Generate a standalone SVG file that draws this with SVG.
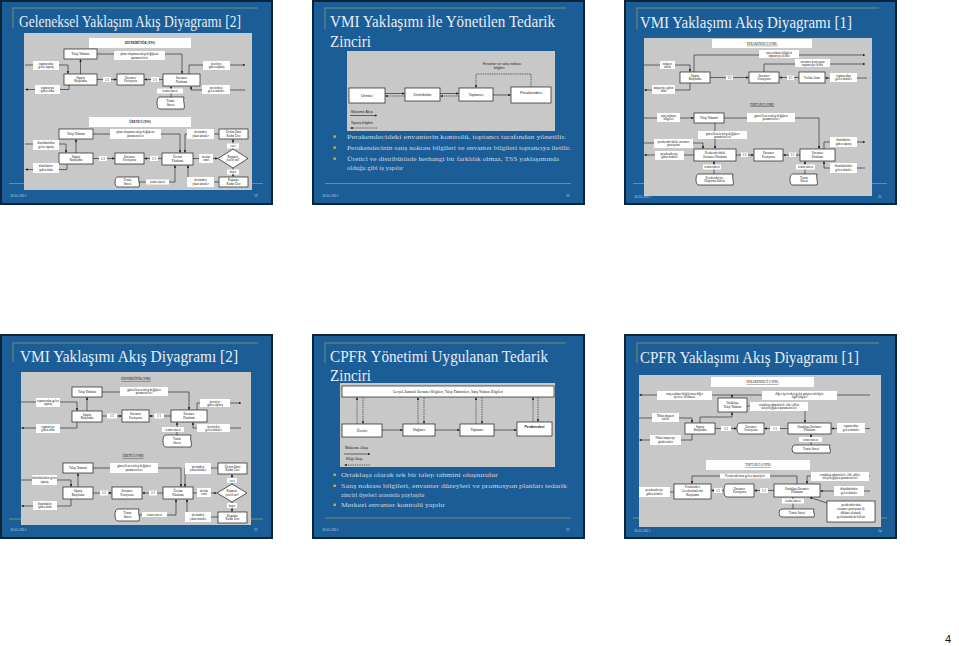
<svg xmlns="http://www.w3.org/2000/svg" width="959" height="646" viewBox="0 0 959 646">
<defs>
<marker id="ah" viewBox="0 0 6 6" refX="5.5" refY="3" markerWidth="2.4" markerHeight="2.4" markerUnits="userSpaceOnUse" orient="auto"><path d="M0,0 L6,3 L0,6z" fill="#111"/></marker>
<style>
.fr{fill:#1b5e97;stroke:#0c243b;stroke-width:2}
.gl{stroke:#8f9b6a;stroke-width:0.8;fill:none}
.ttl{font-family:"Liberation Serif",serif;font-size:17px;fill:#e8edf3}
.pn{fill:#c8c8c8}
.b{fill:#fff;stroke:#1a1a1a;stroke-width:0.7}
.w{fill:#fff}
.s{font-family:"Liberation Serif",serif;font-size:3.1px;fill:#111;text-anchor:middle}
.h{font-weight:bold}
.u{text-decoration:underline}
.c{stroke:#1a1a1a;stroke-width:0.6;fill:none;marker-end:url(#ah)}
.d{stroke-dasharray:1.4 0.9}
.ft{font-family:"Liberation Serif",serif;font-size:3.6px;fill:#c9d5e2}
.bu{font-family:"Liberation Serif",serif;font-size:6.2px;fill:#cdd6e1}
.bq{fill:#c6b44a}
.n{font-family:"Liberation Sans",sans-serif;font-size:4px;fill:#222;text-anchor:middle}
.nl{font-family:"Liberation Sans",sans-serif;font-size:3.4px;fill:#222}
</style>
</defs>
<rect width="959" height="646" fill="#fff"/>

<!-- Slide 19 -->
<g id="slide19" transform="translate(1,1)">
<rect class="fr" x="0" y="0" width="271" height="203"/>
<path class="gl" d="M12,27 V7 H257"/>
<path class="gl" d="M8,182.5 H262"/>
<text class="ttl" x="18" y="26" textLength="222" lengthAdjust="spacingAndGlyphs">Geleneksel Yaklaşım Akış Diyagramı [2]</text>
<text class="ft" x="9" y="196">16.01.2015</text>
<text class="ft" x="253" y="196">19</text>
<rect class="pn" x="23" y="32" width="228" height="157"/>
<g id="s19-edges">
<path class="c" d="M24,64 H67 V72.5"/>
<path class="c" d="M68,84 V88.5 H24.5"/>
<path class="c" d="M79.5,73 V58.5"/>
<path class="c" d="M96,53 H181 V72.5"/>
<path class="c" d="M96,78.5 H115.5"/>
<path class="c" d="M162,78.5 H143.5"/>
<path class="c" d="M188,73 V64 H244"/>
<path class="c" d="M244,89 H190 V85.5"/>
<path class="c" d="M170,96 V85.5"/>
<path class="c" d="M24,143 H65 V151.5"/>
<path class="c" d="M66,163 V168.5 H24.5"/>
<path class="c" d="M75,152 V138.5"/>
<path class="c" d="M92,133 H179 V151.5"/>
<path class="c" d="M92,157.5 H113.5"/>
<path class="c" d="M161,157.5 H143.5"/>
<path class="c" d="M192,157.5 H216.5"/>
<path class="c" d="M232,148 V138.5"/>
<path class="c" d="M232,167 V175.5"/>
<path class="c" d="M218,133 H184 V151.5"/>
<path class="c" d="M218,181 H187 V164.5"/>
<path class="c" d="M138,181 H174 V164.5"/>
</g>
<g id="s19-dist-hdr"><rect class="w" x="88" y="37" width="102" height="10"/><text class="s h" x="139" y="43.2">DİSTRİBÜTÖR (TSS)</text></g>
<g id="s19-talep1"><rect class="b" x="63" y="48" width="33" height="10"/><text class="s" x="79.5" y="54.1">Talep Tahmini</text></g>
<g id="s19-l1"><rect class="w" x="113" y="50" width="51" height="9"/><text class="s" x="138.5" y="54">planı oluşturan talep değişkeni</text><text class="s" x="138.5" y="57.6">parametreleri</text></g>
<g id="s19-l2"><rect class="w" x="32" y="60" width="26" height="9"/><text class="s" x="45" y="63.8">toptancıdan</text><text class="s" x="45" y="67.4">gelen sipariş</text></g>
<g id="s19-siparis1"><rect class="b" x="63" y="73" width="33" height="11"/><text class="s" x="79.5" y="77.6">Sipariş</text><text class="s" x="79.5" y="81.4">Karşılama</text></g>
<g id="s19-r12a"><rect class="w" x="102" y="76" width="8" height="5"/><text class="s" x="106" y="79.5">1/2</text></g>
<g id="s19-envpoz1"><rect class="b" x="116" y="73" width="27" height="11"/><text class="s" x="129.5" y="77.6">Envanter</text><text class="s" x="129.5" y="81.4">Pozisyonu</text></g>
<g id="s19-r11a"><rect class="w" x="150" y="76" width="8" height="5"/><text class="s" x="154" y="79.5">1/1</text></g>
<g id="s19-envplan"><rect class="b" x="162" y="73" width="37" height="12"/><text class="s" x="180.5" y="78">Envanter</text><text class="s" x="180.5" y="81.8">Planlama</text></g>
<g id="s19-l3"><rect class="w" x="202" y="60" width="27" height="9"/><text class="s" x="215.5" y="63.8">üreticiye</text><text class="s" x="215.5" y="67.4">giden sipariş</text></g>
<g id="s19-l4"><rect class="w" x="34" y="84" width="25" height="9"/><text class="s" x="46.5" y="87.8">toptancıya</text><text class="s" x="46.5" y="91.4">giden ürün</text></g>
<g id="s19-l5"><rect class="w" x="201" y="84" width="28" height="9"/><text class="s" x="215" y="87.8">üreticiden</text><text class="s" x="215" y="91.4">gelen ürünler</text></g>
<g id="s19-l6"><rect class="w" x="156" y="87.5" width="26" height="5"/><text class="s" x="169" y="91">temin süresi</text></g>
<g id="s19-temin1"><path class="b" d="M159,96 H183 c-1.5,3 1.5,9 0,12 H159 q-3,0 -3,-6 q0,-6 3,-6Z"/><text class="s" x="169.5" y="101">Temin</text><text class="s" x="169.5" y="104.8">Süresi</text></g>
<g id="s19-ur-hdr"><rect class="w" x="88" y="116" width="102" height="10"/><text class="s h" x="139" y="122.2">ÜRETİCİ (TSS)</text></g>
<g id="s19-talep2"><rect class="b" x="58" y="128" width="34" height="10"/><text class="s" x="75" y="134.1">Talep Tahmini</text></g>
<g id="s19-l7"><rect class="w" x="109" y="128" width="51" height="10"/><text class="s" x="134.5" y="132.3">planı oluşturan talep değişkeni</text><text class="s" x="134.5" y="136">parametreleri</text></g>
<g id="s19-l8"><rect class="w" x="32" y="139" width="26" height="10"/><text class="s" x="45" y="143.2">distribütörden</text><text class="s" x="45" y="146.9">gelen sipariş</text></g>
<g id="s19-siparis2"><rect class="b" x="58" y="152" width="34" height="11"/><text class="s" x="75" y="156.6">Sipariş</text><text class="s" x="75" y="160.4">Karşılama</text></g>
<g id="s19-r12b"><rect class="w" x="98" y="155" width="8" height="5"/><text class="s" x="102" y="158.5">1/2</text></g>
<g id="s19-envpoz2"><rect class="b" x="114" y="152" width="29" height="11"/><text class="s" x="128.5" y="156.6">Envanter</text><text class="s" x="128.5" y="160.4">Pozisyonu</text></g>
<g id="s19-r11b"><rect class="w" x="149" y="155" width="8" height="5"/><text class="s" x="153" y="158.5">1/1</text></g>
<g id="s19-uretplan"><rect class="b" x="161" y="152" width="31" height="12"/><text class="s" x="176.5" y="157">Üretim</text><text class="s" x="176.5" y="160.8">Planlama</text></g>
<g id="s19-l9"><rect class="w" x="198" y="153" width="14" height="9"/><text class="s" x="205" y="156.8">üretim</text><text class="s" x="205" y="160.4">emri</text></g>
<g id="s19-kapasite"><path class="b" d="M217,157.5 L232,148 L247,157.5 L232,167Z"/><text class="s" x="232" y="156.6">Kapasite</text><text class="s" x="232" y="160.2">yeterli mi?</text></g>
<g id="s19-evet"><rect class="w" x="226" y="142.5" width="12" height="5"/><text class="s" x="232" y="146">evet</text></g>
<g id="s19-hayir"><rect class="w" x="226" y="168.5" width="12" height="5"/><text class="s" x="232" y="172">hayır</text></g>
<g id="s19-l10"><rect class="w" x="186" y="128" width="27" height="10"/><text class="s" x="199.5" y="132.3">üretimden</text><text class="s" x="199.5" y="136">çıkan ürünler</text></g>
<g id="s19-emri"><rect class="b" x="218" y="128" width="29" height="10"/><text class="s" x="232.5" y="132.3">Üretim Emri</text><text class="s" x="232.5" y="136">Kadar Üret</text></g>
<g id="s19-l11"><rect class="w" x="186" y="176" width="27" height="10"/><text class="s" x="199.5" y="180.3">üretimden</text><text class="s" x="199.5" y="184">çıkan ürünler</text></g>
<g id="s19-kapkadar"><rect class="b" x="218" y="176" width="29" height="10"/><text class="s" x="232.5" y="180.3">Kapasite</text><text class="s" x="232.5" y="184">Kadar Üret</text></g>
<g id="s19-temin2"><path class="b" d="M117,176 H138 c-1.5,2.5 1.5,7.5 0,10 H117 q-3,0 -3,-5 q0,-5 3,-5Z"/><text class="s" x="126.5" y="180.3">Temin</text><text class="s" x="126.5" y="184">Süresi</text></g>
<g id="s19-l12"><rect class="w" x="145" y="178.5" width="23" height="5"/><text class="s" x="156.5" y="182">temin süresi</text></g>
<g id="s19-l13"><rect class="w" x="32" y="162" width="26" height="10"/><text class="s" x="45" y="166.2">distribütöre</text><text class="s" x="45" y="169.9">giden ürün</text></g>
</g>

<!-- Slide 20 -->
<g id="slide20" transform="translate(313,1)">
<rect class="fr" x="0" y="0" width="271" height="203"/>
<path class="gl" d="M12,28 V7 H253"/>
<path class="gl" d="M12,182.5 H258"/>
<text class="ttl" x="17" y="26" textLength="225" lengthAdjust="spacingAndGlyphs">VMI Yaklaşımı ile Yönetilen Tedarik</text>
<text class="ttl" x="17" y="46" textLength="41" lengthAdjust="spacingAndGlyphs">Zinciri</text>
<text class="ft" x="9" y="196">16.01.2015</text>
<text class="ft" x="253" y="196">20</text>
<rect class="pn" x="34" y="50" width="208" height="80"/>
<g id="s20-edges">
<path class="c" d="M72,92.5 H91.5"/>
<path class="c d" d="M92,95 H72.5"/>
<path class="c" d="M127,92.5 H145.5"/>
<path class="c d" d="M146,95 H127.5"/>
<path class="c" d="M180,94 H197.5"/>
<path class="c d" d="M218,86 V73 H163 V86.5"/>
<path class="c" d="M37,114.5 H64"/>
<path class="c d" d="M64,127 H37.5"/>
</g>
<text class="nl" x="170" y="63.5">Envanter  ve  satış noktası</text>
<text class="nl" x="181" y="67.5">bilgileri</text>
<g id="s20-uretici"><rect class="b" x="36" y="87" width="36" height="15"/><text class="n" x="54" y="96">Üretici</text></g>
<g id="s20-dist"><rect class="b" x="92" y="87" width="35" height="13"/><text class="n" x="109.5" y="95">Distribütör</text></g>
<g id="s20-topt"><rect class="b" x="146" y="87" width="34" height="13"/><text class="n" x="163" y="95">Toptancı</text></g>
<g id="s20-perak"><rect class="b" x="198" y="86" width="40" height="16"/><text class="n" x="218" y="93">Perakendeci</text></g>
<text class="nl" x="38" y="111.5">Malzeme  Akışı</text>
<text class="nl" x="38" y="123">Sipariş bilgileri</text>
<rect class="bq" x="20.5" y="134.4" width="2.4" height="2.4"/>
<text class="bu" x="34" y="138" textLength="219" lengthAdjust="spacingAndGlyphs">Perakendecideki envanterin kontrolü, toptancı tarafından yönetilir.</text>
<rect class="bq" x="20.5" y="145.4" width="2.4" height="2.4"/>
<text class="bu" x="34" y="149" textLength="224" lengthAdjust="spacingAndGlyphs">Perakendecinin satış noktası bilgileri ve envanter bilgileri toptancıya iletilir.</text>
<rect class="bq" x="20.5" y="156.4" width="2.4" height="2.4"/>
<text class="bu" x="34" y="160" textLength="212" lengthAdjust="spacingAndGlyphs">Üretici ve distribütörde herhangi bir farklılık olmaz, TSS yaklaşımında</text>
<text class="bu" x="34" y="168.5" textLength="56" lengthAdjust="spacingAndGlyphs">olduğu gibi iş yapılır</text>
</g>

<!-- Slide 21 -->
<g id="slide21" transform="translate(625,1)">
<rect class="fr" x="0" y="0" width="271" height="203"/>
<path class="gl" d="M12,28 V7 H254"/>
<path class="gl" d="M8,182.5 H262"/>
<text class="ttl" x="15" y="27" textLength="212" lengthAdjust="spacingAndGlyphs">VMI Yaklaşımı Akış Diyagramı [1]</text>
<rect class="pn" x="19" y="37" width="228" height="158"/>
<text class="ft" x="9" y="197">16.01.2015</text>
<text class="ft" x="253" y="197">21</text>
<g id="s21-edges">
<path class="c" d="M19,64 H65 V70.5"/>
<path class="c" d="M69,71 V54 H240"/>
<path class="c" d="M139,71 V63 H240"/>
<path class="c" d="M85,76.5 H123.5"/>
<path class="c" d="M174,76.5 H154.5"/>
<path class="c" d="M242,77 H200.5"/>
<path class="c" d="M65,82 V89 H19.5"/>
<path class="c" d="M19,117 H68.5"/>
<path class="c" d="M99,117 H194 V147.5"/>
<path class="c" d="M90,122 V147.5"/>
<path class="c" d="M19,142 H78 V147.5"/>
<path class="c" d="M69,154 H19.5"/>
<path class="c" d="M111,154 H128.5"/>
<path class="c" d="M175,154 H158.5"/>
<path class="c" d="M199,148 V141 H240"/>
<path class="c" d="M240,167 H199 V160.5"/>
<path class="c" d="M89,173 V160.5"/>
<path class="c" d="M180,173 V160.5"/>
</g>
<g id="s21-perak-hdr"><rect class="w" x="87" y="38" width="100" height="9"/><text class="s u" x="137" y="43.8">PERAKENDECİ (VMI)</text></g>
<g id="s21-l1"><rect class="w" x="134" y="49" width="40" height="8"/><text class="s" x="154" y="52.6">satış noktası bilgileri</text><text class="s" x="154" y="56">toptancıya iletilir</text></g>
<g id="s21-l2"><rect class="w" x="170" y="58" width="35" height="8"/><text class="s" x="187.5" y="61.6">envanter pozisyonu</text><text class="s" x="187.5" y="65">toptancıya iletilir</text></g>
<g id="s21-l3"><rect class="w" x="35" y="60" width="15" height="8"/><text class="s" x="42.5" y="63.6">müşteri</text><text class="s" x="42.5" y="67">talebi</text></g>
<g id="s21-siparis"><rect class="b" x="55" y="71" width="30" height="11"/><text class="s" x="70" y="75.6">Sipariş</text><text class="s" x="70" y="79.4">Karşılama</text></g>
<g id="s21-r12a"><rect class="w" x="101" y="74.5" width="7" height="4.5"/><text class="s" x="104.5" y="77.8">1/2</text></g>
<g id="s21-envpoz1"><rect class="b" x="124" y="71" width="30" height="11"/><text class="s" x="139" y="75.6">Envanter</text><text class="s" x="139" y="79.4">Pozisyonu</text></g>
<g id="s21-r11a"><rect class="w" x="162" y="74.5" width="7" height="4.5"/><text class="s" x="165.5" y="77.8">1/1</text></g>
<g id="s21-teslim"><rect class="b" x="174" y="71" width="26" height="11"/><text class="s" x="187" y="77.6">Teslim Alma</text></g>
<g id="s21-l4"><rect class="w" x="205" y="72" width="27" height="9"/><text class="s" x="218.5" y="75.8">toptancıdan</text><text class="s" x="218.5" y="79.4">gelen ürünler</text></g>
<g id="s21-l5"><rect class="w" x="27" y="84" width="23" height="9"/><text class="s" x="38.5" y="87.8">müşteriye giden</text><text class="s" x="38.5" y="91.4">ürün</text></g>
<text class="s u" x="137" y="104.5">TOPTANCI (VMI)</text>
<g id="s21-l6"><rect class="w" x="32" y="112" width="23" height="9"/><text class="s" x="43.5" y="115.8">satış noktası</text><text class="s" x="43.5" y="119.4">bilgileri</text></g>
<g id="s21-talep"><rect class="b" x="69" y="112" width="30" height="10"/><text class="s" x="84" y="118.1">Talep Tahmini</text></g>
<g id="s21-l7"><rect class="w" x="122" y="112" width="48" height="9"/><text class="s" x="146" y="115.8">güncellenen talep değişken</text><text class="s" x="146" y="119.4">parametreleri</text></g>
<g id="s21-l8"><rect class="w" x="73" y="130" width="49" height="8"/><text class="s" x="97.5" y="133.6">güncellenen talep değişken</text><text class="s" x="97.5" y="137">parametreleri</text></g>
<g id="s21-l9"><rect class="w" x="29" y="138" width="39" height="9"/><text class="s" x="48.5" y="141.8">perakendecideki envanter</text><text class="s" x="48.5" y="145.4">pozisyonu</text></g>
<g id="s21-l10"><rect class="w" x="30" y="150" width="29" height="9"/><text class="s" x="44.5" y="153.8">perakendeciye</text><text class="s" x="44.5" y="157.4">giden ürünler</text></g>
<g id="s21-perakplan"><rect class="b" x="69" y="148" width="42" height="12"/><text class="s" x="90" y="153">Perakendecideki</text><text class="s" x="90" y="156.8">Envanter Planlama</text></g>
<g id="s21-r12b"><rect class="w" x="116" y="151.5" width="7" height="4.5"/><text class="s" x="119.5" y="154.8">1/2</text></g>
<g id="s21-envpoz2"><rect class="b" x="129" y="148" width="29" height="12"/><text class="s" x="143.5" y="153">Envanter</text><text class="s" x="143.5" y="156.8">Pozisyonu</text></g>
<g id="s21-r11b"><rect class="w" x="164" y="151.5" width="7" height="4.5"/><text class="s" x="167.5" y="154.8">1/1</text></g>
<g id="s21-envplan"><rect class="b" x="175" y="148" width="35" height="12"/><text class="s" x="192.5" y="153">Envanter</text><text class="s" x="192.5" y="156.8">Planlama</text></g>
<g id="s21-l11"><rect class="w" x="205" y="136" width="27" height="10"/><text class="s" x="218.5" y="140.2">distribütöre</text><text class="s" x="218.5" y="143.9">giden sipariş</text></g>
<g id="s21-l12"><rect class="w" x="205" y="162" width="27" height="10"/><text class="s" x="218.5" y="166.2">distribütörden</text><text class="s" x="218.5" y="169.9">gelen ürünler</text></g>
<g id="s21-l13"><rect class="w" x="78" y="163.5" width="18" height="5"/><text class="s" x="87" y="167">temin süresi</text></g>
<g id="s21-ulas"><path class="b" d="M74,173 H108 c-1.5,2.75 1.5,8.25 0,11 H74 q-3,0 -3,-5.5 q0,-5.5 3,-5.5Z"/><text class="s" x="89.5" y="177.7">Perakendeciye</text><text class="s" x="89.5" y="181.4">Ulaştırma Süresi</text></g>
<g id="s21-l14"><rect class="w" x="171" y="163.5" width="19" height="5"/><text class="s" x="180.5" y="167">temin süresi</text></g>
<g id="s21-temin"><path class="b" d="M168,173 H192 c-1.5,2.75 1.5,8.25 0,11 H168 q-3,0 -3,-5.5 q0,-5.5 3,-5.5Z"/><text class="s" x="179" y="177.7">Temin</text><text class="s" x="179" y="181.4">Süresi</text></g>
</g>

<!-- Slide 22 -->
<g id="slide22" transform="translate(1,335)">
<rect class="fr" x="0" y="0" width="271" height="203"/>
<path class="gl" d="M12,27 V8 H257"/>
<path class="gl" d="M8,184 H262"/>
<text class="ttl" x="19" y="27" textLength="218" lengthAdjust="spacingAndGlyphs">VMI Yaklaşımı Akış Diyagramı [2]</text>
<text class="ft" x="9" y="196">16.01.2015</text>
<text class="ft" x="253" y="196">22</text>
<rect class="pn" x="20" y="37" width="230" height="153"/>
<g id="s22-edges">
<path class="c" d="M20,67 H76 V75.5"/>
<path class="c" d="M76,87 V93 H20.5"/>
<path class="c" d="M86,76 V62.5"/>
<path class="c" d="M101,57 H188 V74.5"/>
<path class="c" d="M101,81 H120.5"/>
<path class="c" d="M170,81 H148.5"/>
<path class="c" d="M196,75 V68 H240"/>
<path class="c" d="M240,93 H192 V87.5"/>
<path class="c" d="M176,100 V87.5"/>
<path class="c" d="M20,145 H70 V151.5"/>
<path class="c" d="M70,164 V171 H20.5"/>
<path class="c" d="M77,152 V138.5"/>
<path class="c" d="M92,133 H180 V151.5"/>
<path class="c" d="M92,158 H110.5"/>
<path class="c" d="M162,158 H141.5"/>
<path class="c" d="M192,158 H215.5"/>
<path class="c" d="M231,149 V139.5"/>
<path class="c" d="M231,167 V176.5"/>
<path class="c" d="M217,133 H184 V151.5"/>
<path class="c" d="M217,182 H186 V164.5"/>
<path class="c" d="M138,180 H175 V164.5"/>
</g>
<text class="s u" x="135" y="45">DİSTRİBÜTÖR (VMI)</text>
<g id="s22-talep1"><rect class="b" x="71" y="52" width="30" height="10"/><text class="s" x="86" y="58.1">Talep Tahmini</text></g>
<g id="s22-l1"><rect class="w" x="119" y="52" width="48" height="9"/><text class="s" x="143" y="55.8">güncellenen talep değişken</text><text class="s" x="143" y="59.4">parametreleri</text></g>
<g id="s22-l2"><rect class="w" x="35" y="63" width="24" height="9"/><text class="s" x="47" y="66.8">toptancıdan gelen</text><text class="s" x="47" y="70.4">sipariş</text></g>
<g id="s22-siparis1"><rect class="b" x="71" y="76" width="30" height="11"/><text class="s" x="86" y="80.6">Sipariş</text><text class="s" x="86" y="84.4">Karşılama</text></g>
<g id="s22-r12a"><rect class="w" x="106" y="78.5" width="10" height="5"/><text class="s" x="111" y="82">1/2</text></g>
<g id="s22-envpoz1"><rect class="b" x="121" y="75" width="27" height="12"/><text class="s" x="134.5" y="80">Envanter</text><text class="s" x="134.5" y="83.8">Pozisyonu</text></g>
<g id="s22-r11a"><rect class="w" x="153" y="78.5" width="10" height="5"/><text class="s" x="158" y="82">1/1</text></g>
<g id="s22-envplan"><rect class="b" x="170" y="75" width="36" height="12"/><text class="s" x="188" y="80">Envanter</text><text class="s" x="188" y="83.8">Planlama</text></g>
<g id="s22-l3"><rect class="w" x="199" y="64" width="30" height="8"/><text class="s" x="214" y="67.6">üreticiye</text><text class="s" x="214" y="71">giden sipariş</text></g>
<g id="s22-l4"><rect class="w" x="196" y="89" width="33" height="8"/><text class="s" x="212.5" y="92.6">üreticiden</text><text class="s" x="212.5" y="96">gelen ürünler</text></g>
<g id="s22-l5"><rect class="w" x="35" y="89" width="24" height="9"/><text class="s" x="47" y="92.8">toptancıya</text><text class="s" x="47" y="96.4">giden ürün</text></g>
<g id="s22-l6"><rect class="w" x="161" y="92" width="22" height="5"/><text class="s" x="172" y="95.5">temin süresi</text></g>
<g id="s22-temin1"><path class="b" d="M165,100 H190 c-1.5,3 1.5,9 0,12 H165 q-3,0 -3,-6 q0,-6 3,-6Z"/><text class="s" x="176" y="105">Temin</text><text class="s" x="176" y="108.8">Süresi</text></g>
<text class="s u" x="132" y="122">ÜRETİCİ (VMI)</text>
<g id="s22-talep2"><rect class="b" x="62" y="128" width="30" height="10"/><text class="s" x="77" y="134.1">Talep Tahmini</text></g>
<g id="s22-l7"><rect class="w" x="109" y="128" width="48" height="10"/><text class="s" x="133" y="132.3">güncellenen talep değişken</text><text class="s" x="133" y="136">parametreleri</text></g>
<g id="s22-l8"><rect class="w" x="184" y="128" width="26" height="11"/><text class="s" x="197" y="132.6">üretimden</text><text class="s" x="197" y="136.4">çıkan ürünler</text></g>
<g id="s22-emri"><rect class="b" x="217" y="128" width="29" height="11"/><text class="s" x="231.5" y="132.6">Üretim Emri</text><text class="s" x="231.5" y="136.4">Kadar Üret</text></g>
<g id="s22-evet"><rect class="w" x="226" y="143" width="10" height="5"/><text class="s" x="231" y="146.5">evet</text></g>
<g id="s22-l9"><rect class="w" x="31" y="140" width="25" height="10"/><text class="s" x="43.5" y="144.2">distribütörden gelen</text><text class="s" x="43.5" y="147.9">sipariş</text></g>
<g id="s22-siparis2"><rect class="b" x="62" y="152" width="30" height="12"/><text class="s" x="77" y="157">Sipariş</text><text class="s" x="77" y="160.8">Karşılama</text></g>
<g id="s22-r12b"><rect class="w" x="99" y="155.5" width="8" height="5"/><text class="s" x="103" y="159">1/2</text></g>
<g id="s22-envpoz2"><rect class="b" x="111" y="152" width="30" height="12"/><text class="s" x="126" y="157">Envanter</text><text class="s" x="126" y="160.8">Pozisyonu</text></g>
<g id="s22-r11b"><rect class="w" x="148" y="155.5" width="8" height="5"/><text class="s" x="152" y="159">1/1</text></g>
<g id="s22-uretplan"><rect class="b" x="162" y="152" width="30" height="12"/><text class="s" x="177" y="157">Üretim</text><text class="s" x="177" y="160.8">Planlama</text></g>
<g id="s22-l10"><rect class="w" x="196" y="153" width="14" height="9"/><text class="s" x="203" y="156.8">üretim</text><text class="s" x="203" y="160.4">emri</text></g>
<g id="s22-kapasite"><path class="b" d="M216,158 L231,149 L246,158 L231,167Z"/><text class="s" x="231" y="157.1">Kapasite</text><text class="s" x="231" y="160.7">yeterli mi?</text></g>
<g id="s22-hayir"><rect class="w" x="226" y="168" width="10" height="5"/><text class="s" x="231" y="171.5">hayır</text></g>
<g id="s22-l11"><rect class="w" x="32" y="166" width="24" height="9"/><text class="s" x="44" y="169.8">distribütöre</text><text class="s" x="44" y="173.4">giden ürün</text></g>
<g id="s22-temin2"><path class="b" d="M117,174 H138 c-1.5,3 1.5,9 0,12 H117 q-3,0 -3,-6 q0,-6 3,-6Z"/><text class="s" x="126.5" y="179">Temin</text><text class="s" x="126.5" y="182.8">Süresi</text></g>
<g id="s22-l12"><rect class="w" x="141" y="177" width="25" height="5"/><text class="s" x="153.5" y="180.5">temin süresi</text></g>
<g id="s22-l13"><rect class="w" x="184" y="177" width="26" height="10"/><text class="s" x="197" y="181.2">üretimden</text><text class="s" x="197" y="184.9">çıkan ürünler</text></g>
<g id="s22-kapkadar"><rect class="b" x="217" y="177" width="29" height="11"/><text class="s" x="231.5" y="181.6">Kapasite</text><text class="s" x="231.5" y="185.4">Kadar Üret</text></g>
</g>

<!-- Slide 23 -->
<g id="slide23" transform="translate(313,335)">
<rect class="fr" x="0" y="0" width="271" height="203"/>
<path class="gl" d="M12,28 V8 H253"/>
<path class="gl" d="M12,183 H258"/>
<text class="ttl" x="17" y="27" textLength="218" lengthAdjust="spacingAndGlyphs">CPFR Yönetimi Uygulanan Tedarik</text>
<text class="ttl" x="17" y="46" textLength="41" lengthAdjust="spacingAndGlyphs">Zinciri</text>
<text class="ft" x="9" y="196">16.01.2015</text>
<text class="ft" x="253" y="196">23</text>
<rect class="pn" x="27" y="48" width="215" height="84"/>
<g id="s23-info"><rect class="b" x="29" y="51" width="212" height="11"/><text class="s" x="135" y="57.8" style="font-size:3.6px">Gerçek Zamanlı Envanter Bilgileri, Talep Tahminleri, Satış Noktası Bilgileri</text></g>
<g id="s23-edges">
<path class="c d" d="M44,88.5 V62.5"/>
<path class="c d" d="M50,62.5 V88.5"/>
<path class="c d" d="M105,88.5 V62.5"/>
<path class="c d" d="M111,62.5 V88.5"/>
<path class="c d" d="M163,88.5 V62.5"/>
<path class="c d" d="M169,62.5 V88.5"/>
<path class="c d" d="M220,86.5 V62.5"/>
<path class="c d" d="M225,62.5 V86.5"/>
<path class="c" d="M69,95 H89.5"/>
<path class="c" d="M122,95 H146.5"/>
<path class="c" d="M181,95 H203.5"/>
<path class="c" d="M31,119 H57"/>
<path class="c d" d="M57,130 H31.5"/>
</g>
<g id="s23-uretici"><rect class="b" x="29" y="89" width="40" height="13"/><text class="s" x="49" y="96.7" style="font-size:3.8px">Üretici</text></g>
<g id="s23-dagitici"><rect class="b" x="90" y="89" width="32" height="12"/><text class="s" x="106" y="96.2" style="font-size:3.8px">Dağıtıcı</text></g>
<g id="s23-toptanci"><rect class="b" x="147" y="89" width="34" height="12"/><text class="s" x="164" y="96.2" style="font-size:3.8px">Toptancı</text></g>
<g id="s23-perak"><rect class="b" x="204" y="87" width="35" height="14"/><text class="n h" x="221.5" y="92.5" style="font-size:3.4px">Perakendeci</text></g>
<text class="s" x="32" y="114" style="text-anchor:start;font-size:3.8px">Malzeme  Akışı</text>
<text class="s" x="33" y="125" style="text-anchor:start;font-size:3.8px">Bilgi  Akışı</text>
<rect class="bq" x="20.5" y="138.6" width="2.4" height="2.4"/>
<text class="bu" x="28" y="142" textLength="157" lengthAdjust="spacingAndGlyphs">Ortaklaşa olarak tek bir talep tahmini oluşturulur</text>
<rect class="bq" x="20.5" y="149.6" width="2.4" height="2.4"/>
<text class="bu" x="28" y="153" textLength="226" lengthAdjust="spacingAndGlyphs">Satış noktası bilgileri, envanter düzeyleri ve promosyon planları tedarik</text>
<text class="bu" x="28" y="161.5" textLength="84" lengthAdjust="spacingAndGlyphs">zinciri üyeleri arasında paylaşılır</text>
<rect class="bq" x="20.5" y="168.6" width="2.4" height="2.4"/>
<text class="bu" x="28" y="172" textLength="104" lengthAdjust="spacingAndGlyphs">Merkezi envanter kontrolü yapılır</text>
</g>

<!-- Slide 24 -->
<g id="slide24" transform="translate(625,335)">
<rect class="fr" x="0" y="0" width="271" height="203"/>
<path class="gl" d="M12,28 V8 H254"/>
<path class="gl" d="M8,183 H262"/>
<text class="ttl" x="15" y="28" textLength="219" lengthAdjust="spacingAndGlyphs">CPFR Yaklaşımı Akış Diyagramı [1]</text>
<rect class="pn" x="14" y="40" width="242" height="152"/>
<text class="ft" x="9" y="197">16.01.2015</text>
<text class="ft" x="253" y="197">24</text>
<g id="s24-edges">
<path class="c" d="M245,60 H14.5"/>
<path class="c" d="M107,60 V62.5"/>
<path class="c" d="M75,88 V82 H107 V77.5"/>
<path class="c" d="M122,71 H180 V87.5"/>
<path class="c" d="M14,83 H67 V87.5"/>
<path class="c" d="M67,99 V105 H14.5"/>
<path class="c" d="M90,93.5 H111.5"/>
<path class="c" d="M163,93.5 H139.5"/>
<path class="c" d="M245,93.5 H206.5"/>
<path class="c" d="M186,110 V99.5"/>
<path class="c" d="M172,149 V141 H67 V148.5"/>
<path class="c" d="M245,141 H182 V148.5"/>
<path class="c" d="M245,156 H195.5"/>
<path class="c" d="M149,155.5 H129.5"/>
<path class="c" d="M99,155.5 H86.5"/>
<path class="c" d="M49,157 H14.5"/>
<path class="c" d="M168,174 V162.5"/>
<path class="c" d="M202,168 L185,162.5"/>
</g>
<g id="s24-perak-hdr"><rect class="w" x="86" y="42" width="103" height="10"/><text class="s u" x="137.5" y="48.2">PERAKENDECİ (CPFR)</text></g>
<g id="s24-l1"><rect class="w" x="32" y="56" width="55" height="9"/><text class="s" x="59.5" y="59.8">satış noktası bilgilerinin diğer</text><text class="s" x="59.5" y="63.4">üyelere iletilmesi</text></g>
<g id="s24-l2"><rect class="w" x="137" y="56" width="75" height="9"/><text class="s" x="174.5" y="59.8">diğer üyelerden gelen müşteri talebiyle</text><text class="s" x="174.5" y="63.4">ilgili bilgiler</text></g>
<g id="s24-talep"><rect class="b" x="93" y="63" width="29" height="14"/><text class="s" x="107.5" y="69">Ortaklaşa</text><text class="s" x="107.5" y="72.8">Talep Tahmini</text></g>
<g id="s24-l3"><rect class="w" x="125" y="67" width="58" height="9"/><text class="s" x="154" y="70.8">ortaklaşa tahminlerle elde edilen</text><text class="s" x="154" y="74.4">talep değişken parametreleri</text></g>
<g id="s24-l4"><rect class="w" x="27" y="78" width="27" height="9"/><text class="s" x="40.5" y="81.8">Nihai müşteri</text><text class="s" x="40.5" y="85.4">talebi</text></g>
<g id="s24-siparis"><rect class="b" x="60" y="88" width="30" height="11"/><text class="s" x="75" y="92.6">Sipariş</text><text class="s" x="75" y="96.4">Karşılama</text></g>
<g id="s24-r12"><rect class="w" x="96" y="91" width="10" height="5"/><text class="s" x="101" y="94.5">1/2</text></g>
<g id="s24-envpoz1"><path class="b" d="M115,88 H139 V99 H115 Q112,99 112,93.5 Q112,88 115,88Z"/><text class="s" x="126" y="92.6">Envanter</text><text class="s" x="126" y="96.4">Pozisyonu</text></g>
<g id="s24-r11a"><rect class="w" x="145" y="91" width="10" height="5"/><text class="s" x="150" y="94.5">1/1</text></g>
<g id="s24-envplan1"><rect class="b" x="163" y="88" width="43" height="11"/><text class="s" x="184.5" y="92.6">Ortaklaşa Envanter</text><text class="s" x="184.5" y="96.4">Planlama</text></g>
<g id="s24-l5"><rect class="w" x="212" y="88" width="28" height="10"/><text class="s" x="226" y="92.2">toptancıdan</text><text class="s" x="226" y="95.9">gelen ürünler</text></g>
<g id="s24-l6"><rect class="w" x="25" y="100" width="31" height="10"/><text class="s" x="40.5" y="104.2">Nihai müşteriye</text><text class="s" x="40.5" y="107.9">gönderimler</text></g>
<g id="s24-l7"><rect class="w" x="174" y="102" width="23" height="5"/><text class="s" x="185.5" y="105.5">temin süresi</text></g>
<g id="s24-temin1"><path class="b" d="M170,110 H205 c-1.5,2 1.5,6 0,8 H170 q-3,0 -3,-4 q0,-4 3,-4Z"/><text class="s" x="186" y="115.1">Temin Süresi</text></g>
<g id="s24-topt-hdr"><rect class="w" x="81" y="125" width="104" height="10"/><text class="s u" x="133" y="131.2">TOPTANCI (CPFR)</text></g>
<g id="s24-l8"><rect class="w" x="95" y="138.5" width="50" height="5"/><text class="s" x="120" y="142">Perakendecinin gelen siparişleri</text></g>
<g id="s24-l9"><rect class="w" x="186" y="137" width="58" height="9"/><text class="s" x="215" y="140.8">ortaklaşa tahminlerle elde edilen</text><text class="s" x="215" y="144.4">talep değişken parametreleri</text></g>
<g id="s24-l10"><rect class="w" x="14" y="152" width="31" height="10"/><text class="s" x="29.5" y="156.2">perakendeciye</text><text class="s" x="29.5" y="159.9">giden ürünler</text></g>
<g id="s24-gerek"><rect class="b" x="49" y="149" width="37" height="15"/><text class="s" x="67.5" y="153.2">Perakendeci</text><text class="s" x="67.5" y="156.9">Gereksinimlerini</text><text class="s" x="67.5" y="160.6">Karşılama</text></g>
<g id="s24-r11b"><rect class="w" x="89" y="153" width="8" height="5"/><text class="s" x="93" y="156.5">1/1</text></g>
<g id="s24-envpoz2"><path class="b" d="M102,149 H129 V162 H102 Q99,162 99,155.5 Q99,149 102,149Z"/><text class="s" x="114.5" y="154.6">Envanter</text><text class="s" x="114.5" y="158.4">Pozisyonu</text></g>
<g id="s24-r11c"><rect class="w" x="135" y="153" width="8" height="5"/><text class="s" x="139" y="156.5">1/1</text></g>
<g id="s24-envplan2"><rect class="b" x="149" y="149" width="46" height="13"/><text class="s" x="172" y="154.6">Ortaklaşa Envanter</text><text class="s" x="172" y="158.4">Planlama</text></g>
<g id="s24-l11"><rect class="w" x="209" y="151" width="30" height="10"/><text class="s" x="224" y="155.2">distribütörden</text><text class="s" x="224" y="158.9">gelen ürünler</text></g>
<g id="s24-l12"><rect class="w" x="157" y="163.5" width="22" height="5"/><text class="s" x="168" y="167">temin süresi</text></g>
<g id="s24-temin2"><path class="b" d="M157,174 H189 c-1.5,2 1.5,6 0,8 H157 q-3,0 -3,-4 q0,-4 3,-4Z"/><text class="s" x="172" y="179.1">Temin Süresi</text></g>
<g id="s24-note"><rect class="b" x="202" y="166" width="48" height="21"/><text class="s" x="226" y="171">perakendecinin</text><text class="s" x="226" y="175">envanter pozisyonu ile</text><text class="s" x="226" y="179">dikkate alınarak,</text><text class="s" x="226" y="183">gereksinimin belirlenir</text></g>
</g>

<text x="945" y="643" style="font-family:'Liberation Sans',sans-serif;font-size:11px;fill:#111">4</text>
</svg>
